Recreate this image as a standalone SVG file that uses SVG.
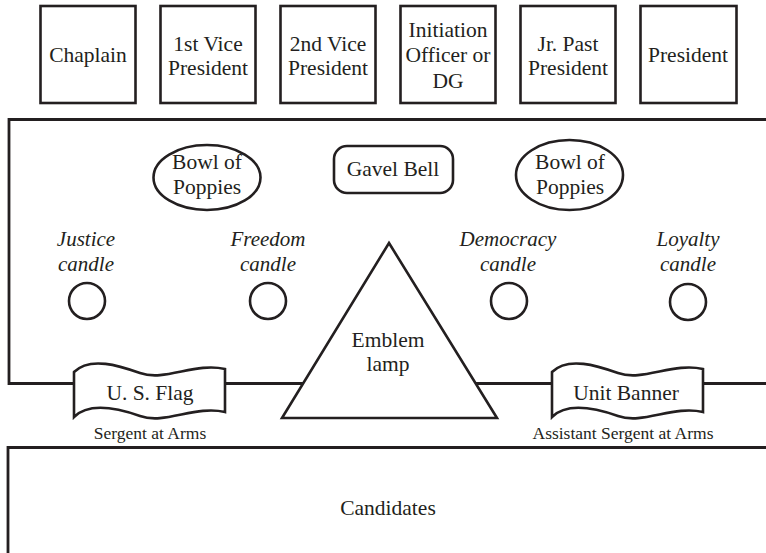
<svg xmlns="http://www.w3.org/2000/svg" width="766" height="553" viewBox="0 0 766 553" font-family="'Liberation Serif', 'Times New Roman', 'DejaVu Serif', serif">
<style>
.ln{fill:none;stroke:#231f20;stroke-width:2.6}
.sh{fill:#fff;stroke:#231f20;stroke-width:2.6}
text{font-family:'Liberation Serif','Times New Roman','DejaVu Serif',serif;fill:#231f20;text-anchor:middle}
.t{font-size:21.5px}
.i{font-size:21px;font-style:italic}
.s{font-size:17.5px}
</style>
<defs>
<path id="banner" d="M74,372 C90,356 120,366 140,373 C165,382 195,362 225,369 L225,412 C195,405 165,425 140,416 C120,409 90,401 74,417 Z"/>
</defs>
<g id="connectors">
<path class="ln" d="M766,119.5 H9 V383.5 H766" style="stroke-width:2.8"/>
<path class="ln" d="M766,447.5 H8 V553" style="stroke-width:2.8"/>
</g>
<g id="chaplain"><rect class="sh" x="40.5" y="6" width="95" height="97"/><text class="t" x="88" y="62">Chaplain</text></g>
<g id="vp1"><rect class="sh" x="160.5" y="6" width="95" height="97"/><text class="t" x="208" y="51">1st Vice</text><text class="t" x="208" y="75">President</text></g>
<g id="vp2"><rect class="sh" x="280.5" y="6" width="95" height="97"/><text class="t" x="328" y="51">2nd Vice</text><text class="t" x="328" y="75">President</text></g>
<g id="initiation"><rect class="sh" x="400.5" y="6" width="95" height="97"/><text class="t" x="448" y="37">Initiation</text><text class="t" x="448" y="62">Officer or</text><text class="t" x="448" y="88">DG</text></g>
<g id="jrpast"><rect class="sh" x="520.5" y="6" width="95" height="97"/><text class="t" x="568" y="51">Jr. Past</text><text class="t" x="568" y="75">President</text></g>
<g id="president"><rect class="sh" x="640.5" y="6" width="96" height="97"/><text class="t" x="688" y="62">President</text></g>
<g id="bowl1"><ellipse class="sh" cx="207" cy="177.5" rx="53.5" ry="32.5"/><text class="t" x="207" y="169">Bowl of</text><text class="t" x="207" y="194">Poppies</text></g>
<g id="gavel"><rect class="sh" x="334" y="146" width="119" height="47" rx="13"/><text class="t" x="393" y="176">Gavel Bell</text></g>
<g id="bowl2"><ellipse class="sh" cx="569.5" cy="175" rx="53.5" ry="35"/><text class="t" x="570" y="169">Bowl of</text><text class="t" x="570" y="194">Poppies</text></g>
<g id="justice"><text class="i" x="86" y="246">Justice</text><text class="i" x="86" y="271">candle</text><circle class="sh" cx="87" cy="301" r="18"/></g>
<g id="freedom"><text class="i" x="268" y="246">Freedom</text><text class="i" x="268" y="271">candle</text><circle class="sh" cx="268" cy="301" r="18"/></g>
<g id="democracy"><text class="i" x="508" y="246">Democracy</text><text class="i" x="508" y="271">candle</text><circle class="sh" cx="509" cy="301" r="18"/></g>
<g id="loyalty"><text class="i" x="688" y="246">Loyalty</text><text class="i" x="688" y="271">candle</text><circle class="sh" cx="688" cy="302" r="18"/></g>
<g id="emblem"><path class="sh" d="M389,243 L497,418 L282,418 Z"/><text class="t" x="388" y="347">Emblem</text><text class="t" x="388" y="371">lamp</text></g>
<g id="flag"><use href="#banner" class="sh"/><text class="t" x="150" y="400">U. S. Flag</text><text class="s" x="150" y="439">Sergent at Arms</text></g>
<g id="unitbanner"><use href="#banner" class="sh" transform="translate(478,0)"/><text class="t" x="626" y="400">Unit Banner</text><text class="s" x="623" y="439">Assistant Sergent at Arms</text></g>
<g id="candidates"><text class="t" x="388" y="515">Candidates</text></g>
</svg>
